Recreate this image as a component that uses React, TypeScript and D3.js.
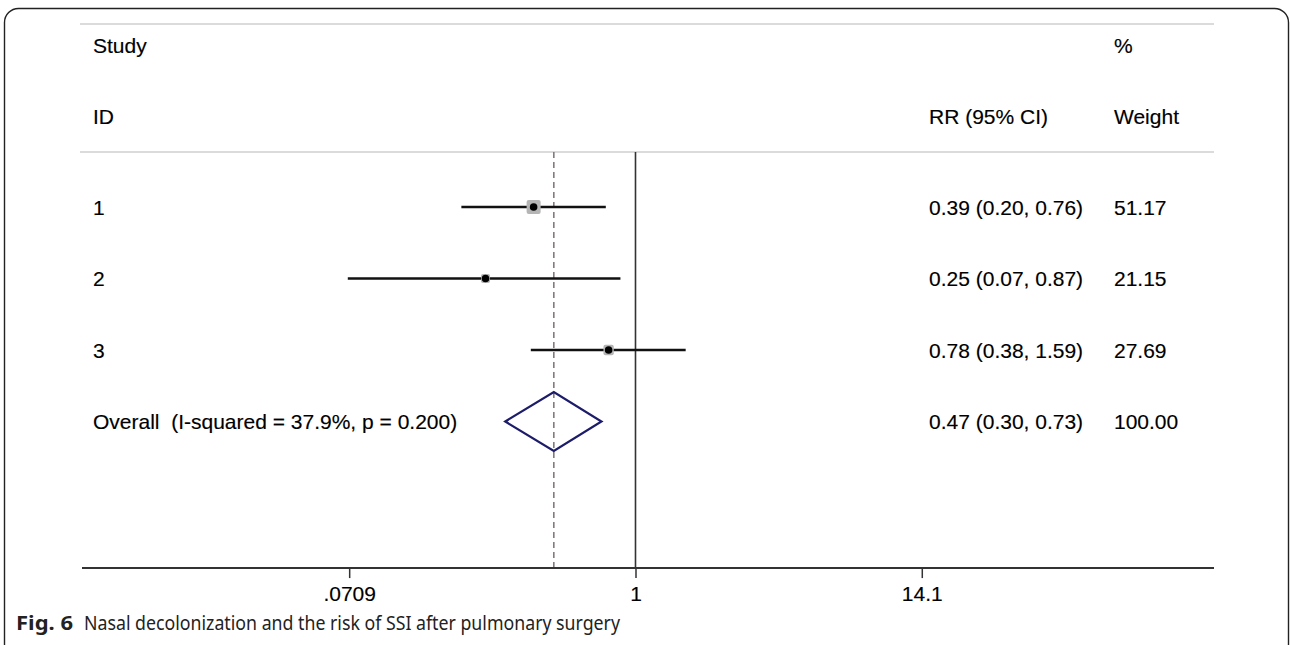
import { useEffect, useRef } from "react";
import * as d3 from "d3";

// study rows
const studyIds = ["1", "2", "3"];
const rrValues = [0.39, 0.25, 0.78];
const lowerCI = [0.2, 0.07, 0.38];
const upperCI = [0.76, 0.87, 1.59];
const weights = [51.17, 21.15, 27.69];

// pooled estimate: [rr, lower, upper]
const overallEstimate = [0.47, 0.3, 0.73];
const overallWeight = 100.0;
const overallLabel = "Overall  (I-squared = 37.9%, p = 0.200)";

// axis
const tickValues = [0.0709, 1, 14.1];
const tickLabels = [".0709", "1", "14.1"];
const axisDomain = [0.006, 210];

const fmt = d3.format(".2f");
const ciText = (r: number, l: number, u: number) =>
  `${fmt(r)} (${fmt(l)}, ${fmt(u)})`;

export default function App() {
  const ref = useRef<SVGSVGElement>(null);

  useEffect(() => {
    if (!ref.current) return;
    const svg = d3.select(ref.current);
    svg.selectAll("*").remove();

    const W = 1290;
    const H = 645;
    const font = "'Liberation Sans', Arial, sans-serif";
    const fs = 21;

    const x = d3.scaleLog().domain(axisDomain).range([82, 1214]);
    // row index -> y (0..3 data rows)
    const y = d3.scaleLinear().domain([0, 1]).range([207, 278.5]);
    const axisY = y(5.05);
    const topY = y(-0.77);
    const size = d3.scaleSqrt().domain([0, 100]).range([0, 19.6]);

    const textX = 93;
    const ciX = 929;
    const wX = 1114;

    // frame
    svg
      .append("rect")
      .attr("x", 4.5)
      .attr("y", 8.5)
      .attr("width", 1284)
      .attr("height", 650)
      .attr("rx", 14)
      .attr("fill", "none")
      .attr("stroke", "#222")
      .attr("stroke-width", 1.4);

    // header rules
    [24, topY].forEach((yy) => {
      svg
        .append("line")
        .attr("x1", 80)
        .attr("x2", 1214)
        .attr("y1", yy)
        .attr("y2", yy)
        .attr("stroke", "#cfcfcf")
        .attr("stroke-width", 1.5);
    });

    const addText = (t: string, xx: number, yy: number) =>
      svg
        .append("text")
        .attr("x", xx)
        .attr("y", yy)
        .attr("dominant-baseline", "central")
        .attr("font-family", font)
        .attr("font-size", fs)
        .attr("fill", "#000")
        .attr("stroke", "#000")
        .attr("stroke-width", 0.15)
        .text(t);

    // headers
    addText("Study", textX, y(-2.26));
    addText("ID", textX, y(-1.26));
    addText("%", wX, y(-2.26));
    addText("RR (95% CI)", ciX, y(-1.26));
    addText("Weight", wX, y(-1.26));

    // reference lines
    svg
      .append("line")
      .attr("x1", x(overallEstimate[0]))
      .attr("x2", x(overallEstimate[0]))
      .attr("y1", topY)
      .attr("y2", axisY)
      .attr("stroke", "#857a7c")
      .attr("stroke-width", 1.6)
      .attr("stroke-dasharray", "6 4");

    svg
      .append("line")
      .attr("x1", x(1))
      .attr("x2", x(1))
      .attr("y1", topY)
      .attr("y2", axisY)
      .attr("stroke", "#333")
      .attr("stroke-width", 1.6);

    // study rows
    studyIds.forEach((id, i) => {
      const yy = y(i);
      addText(id, textX, yy);
      svg
        .append("line")
        .attr("x1", x(lowerCI[i]))
        .attr("x2", x(upperCI[i]))
        .attr("y1", yy)
        .attr("y2", yy)
        .attr("stroke", "#111")
        .attr("stroke-width", 2.4);
      const s = size(weights[i]);
      svg
        .append("rect")
        .attr("x", x(rrValues[i]) - s / 2)
        .attr("y", yy - s / 2)
        .attr("width", s)
        .attr("height", s)
        .attr("rx", 2)
        .attr("fill", "#b5b5b5");
      svg
        .append("circle")
        .attr("cx", x(rrValues[i]))
        .attr("cy", yy)
        .attr("r", 3.8)
        .attr("fill", "#000");
      addText(ciText(rrValues[i], lowerCI[i], upperCI[i]), ciX, yy);
      addText(fmt(weights[i]), wX, yy);
    });

    // overall diamond
    const oy = y(3);
    const [orr, olo, ohi] = overallEstimate;
    const dh = 29.5;
    svg
      .append("path")
      .attr(
        "d",
        `M${x(olo)},${oy}L${x(orr)},${oy - dh}L${x(ohi)},${oy}L${x(orr)},${oy + dh}Z`,
      )
      .attr("fill", "none")
      .attr("stroke", "#1c1c6a")
      .attr("stroke-width", 2.2);
    addText(overallLabel, textX, oy).attr("xml:space", "preserve");
    addText(ciText(orr, olo, ohi), ciX, oy);
    addText(fmt(overallWeight), wX, oy);

    // x axis
    const ax = svg
      .append("g")
      .attr("transform", `translate(0,${axisY})`)
      .call(
        d3
          .axisBottom(x)
          .tickValues(tickValues)
          .tickSize(10)
          .tickPadding(8)
          .tickFormat((_, i) => tickLabels[i]),
      );
    ax.select(".domain")
      .attr("d", `M${x(axisDomain[0])},0H${x(axisDomain[1])}`)
      .attr("stroke", "#333")
      .attr("stroke-width", 2);
    ax.selectAll("line").attr("stroke", "#333").attr("stroke-width", 1.5);
    ax.selectAll("text")
      .attr("font-family", font)
      .attr("font-size", fs)
      .attr("fill", "#000")
      .attr("stroke", "#000")
      .attr("stroke-width", 0.15);

    // caption
    const cap = svg
      .append("text")
      .attr("x", 16)
      .attr("y", 630)
      .attr("font-family", "'Noto Sans', 'Open Sans', sans-serif")
      .attr("font-size", 20)
      .attr("fill", "#222");
    cap
      .append("tspan")
      .attr("font-weight", "bold")
      .attr("textLength", 57)
      .attr("lengthAdjust", "spacingAndGlyphs")
      .text("Fig. 6");
    cap
      .append("tspan")
      .attr("x", 84)
      .attr("textLength", 536)
      .attr("lengthAdjust", "spacingAndGlyphs")
      .text("Nasal decolonization and the risk of SSI after pulmonary surgery");

    svg.attr("viewBox", `0 0 ${W} ${H}`);
  }, []);

  return (
    <svg
      ref={ref}
      width={1290}
      height={645}
      style={{ position: "absolute", left: 0, top: 0, background: "#fff" }}
    />
  );
}
